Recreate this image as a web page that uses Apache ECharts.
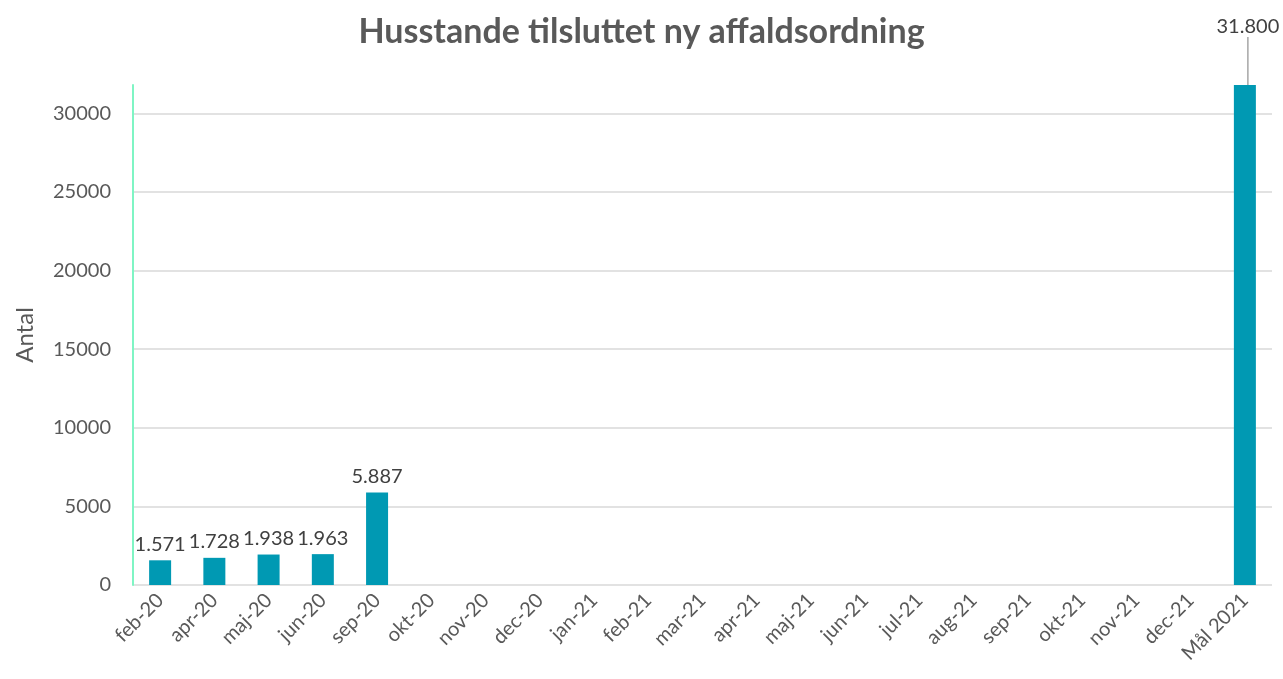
<!DOCTYPE html>
<html>
<head>
<meta charset="utf-8">
<script src="https://cdn.jsdelivr.net/npm/echarts@6/dist/echarts.min.js"></script>
<style>
  html, body { margin: 0; padding: 0; background: #fff; }
  #chart { width: 1283px; height: 679px; }
</style>
</head>
<body>
<div id="chart"></div>
<script>
// data
const categories = ['feb-20', 'apr-20', 'maj-20', 'jun-20', 'sep-20', 'okt-20', 'nov-20', 'dec-20',
  'jan-21', 'feb-21', 'mar-21', 'apr-21', 'maj-21', 'jun-21', 'jul-21', 'aug-21', 'sep-21',
  'okt-21', 'nov-21', 'dec-21', 'Mål 2021'];
const values = [1571, 1728, 1938, 1963, 5887, null, null, null, null, null, null, null, null,
  null, null, null, null, null, null, null, 31800];
const yMax = 31800;

const font = 'Lato, "Open Sans", sans-serif';

// dansk tusindtalsseparator
function fmt(v) {
  return String(v).replace(/\B(?=(\d{3})+(?!\d))/g, '.');
}

const chart = echarts.init(document.getElementById('chart'));

// kun den sidste søjle får en label-streg
const seriesData = values.map((v, i) => {
  if (i === values.length - 1) {
    return { value: v, labelLine: { show: true, length2: 0, lineStyle: { color: '#a6a6a6', width: 1.5 } } };
  }
  return v;
});

chart.setOption({
  animation: false,
  title: {
    text: 'Husstande tilsluttet ny affaldsordning',
    left: 'center',
    top: 10,
    textStyle: { fontFamily: font, fontSize: 34, fontWeight: 'bold', color: '#595959' }
  },
  grid: { left: 133, right: 11, top: 85, bottom: 94 },
  xAxis: {
    type: 'category',
    data: categories,
    axisLine: { show: false },
    axisTick: { show: false },
    axisLabel: {
      rotate: 45,
      interval: 0,
      margin: 12,
      fontFamily: font,
      fontSize: 20,
      color: '#595959'
    }
  },
  yAxis: {
    type: 'value',
    min: 0,
    max: yMax,
    interval: 5000,
    name: 'Antal',
    nameLocation: 'middle',
    nameGap: 96,
    nameTextStyle: { fontFamily: font, fontSize: 24, color: '#595959' },
    axisLine: { show: true, lineStyle: { color: '#7ff5c4', width: 2 } },
    axisTick: { show: false },
    axisLabel: {
      showMaxLabel: false,
      margin: 22,
      fontFamily: font,
      fontSize: 20,
      color: '#595959',
      formatter: v => String(v)
    },
    splitLine: { showMaxLine: false, lineStyle: { color: '#d9d9d9', width: 1.5 } }
  },
  series: [{
    type: 'bar',
    data: seriesData,
    barWidth: 22,
    itemStyle: { color: '#0099b3' },
    label: {
      show: true,
      position: 'top',
      distance: 6,
      fontFamily: font,
      fontSize: 20,
      color: '#404040',
      formatter: p => fmt(p.value)
    },
    labelLayout: function (params) {
      if (params.dataIndex === values.length - 1) {
        return { dx: 3, dy: -42 };
      }
      return {};
    }
  }]
});
</script>
</body>
</html>
